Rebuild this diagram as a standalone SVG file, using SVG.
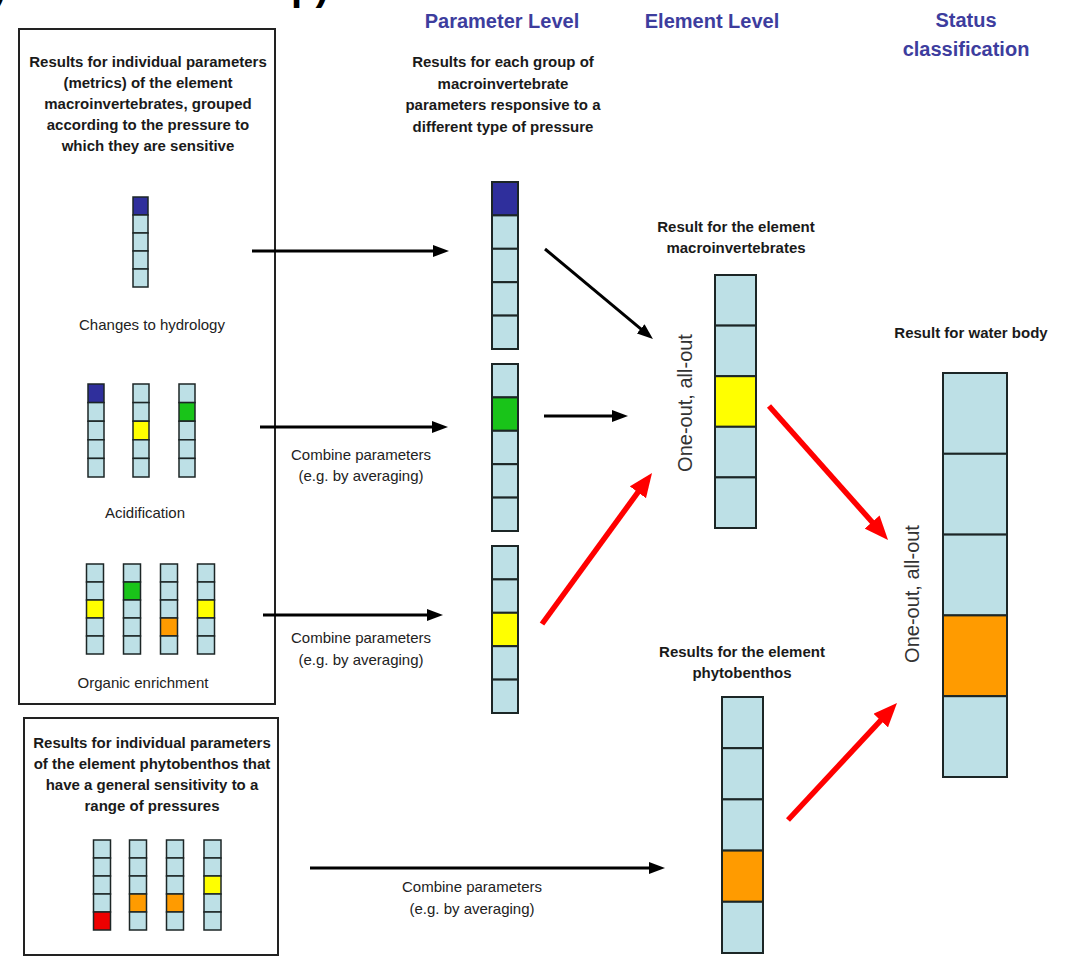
<svg xmlns="http://www.w3.org/2000/svg" width="1068" height="957" viewBox="0 0 1068 957">
  <style>
    .hdr { font-family: "Liberation Sans", Arial, sans-serif; font-size: 20px; font-weight: bold; fill: #3d3d9e; text-anchor: middle; }
    .note { font-family: "Liberation Sans", Arial, sans-serif; font-size: 15px; font-weight: bold; fill: #1a1a1a; text-anchor: middle; }
    .lbl { font-family: "Liberation Sans", Arial, sans-serif; font-size: 15px; fill: #222; text-anchor: middle; }
    .rot { font-family: "Liberation Sans", Arial, sans-serif; font-size: 20px; fill: #333; text-anchor: middle; }
    .frag { font-family: "Liberation Sans", Arial, sans-serif; font-size: 40px; font-weight: bold; fill: #000; }
    .box { fill: #fff; stroke: #222; stroke-width: 2; }
    rect.c, rect.nv, rect.gr, rect.ye, rect.or, rect.rd { stroke: #1c2626; stroke-width: 1.5; }
    .big rect { stroke-width: 2; }
    .c { fill: #bde0e6; }
    .nv { fill: #2f2f9c; }
    .gr { fill: #19c419; }
    .ye { fill: #ffff00; }
    .or { fill: #ff9b00; }
    .rd { fill: #ee0000; }
    .blk { stroke: #000; stroke-width: 3; fill: none; marker-end: url(#headBlack); }
    .red { stroke: #ff0000; stroke-width: 5.5; fill: none; marker-end: url(#headRed); }
  </style>
  <defs>
    <marker id="headBlack" markerUnits="userSpaceOnUse" markerWidth="16" markerHeight="12" refX="6" refY="6" orient="auto">
      <path d="M0,0 L16,6 L0,12 z" fill="#000"/>
    </marker>
    <marker id="headRed" markerUnits="userSpaceOnUse" markerWidth="24" markerHeight="20" refX="8" refY="10" orient="auto">
      <path d="M0,0 L24,10 L0,20 z" fill="#ff0000"/>
    </marker>
  </defs>

  <rect width="1068" height="957" fill="#fff"/>

  <!-- title descenders cut off at the top edge -->
  <text class="frag" x="-7" y="0">)</text>
  <text class="frag" x="291" y="0">p)</text>

  <!-- column headings -->
  <g id="headings">
    <text class="hdr" x="502" y="28">Parameter Level</text>
    <text class="hdr" x="712" y="28">Element Level</text>
    <text class="hdr" x="966" y="27">Status</text>
    <text class="hdr" x="966" y="56">classification</text>
  </g>

  <!-- macroinvertebrate parameter box -->
  <g id="macro-params">
    <rect class="box" x="19" y="29" width="256" height="675"/>
    <text class="note" x="148" y="67">Results for individual parameters</text>
    <text class="note" x="148" y="88">(metrics) of the element</text>
    <text class="note" x="148" y="109">macroinvertebrates, grouped</text>
    <text class="note" x="148" y="130">according to the pressure to</text>
    <text class="note" x="148" y="151">which they are sensitive</text>

    <g id="hydrology">
      <rect class="nv" x="133" y="197" width="15" height="18"/>
      <rect class="c" x="133" y="215" width="15" height="18"/>
      <rect class="c" x="133" y="233" width="15" height="18"/>
      <rect class="c" x="133" y="251" width="15" height="18"/>
      <rect class="c" x="133" y="269" width="15" height="18"/>
      <text class="lbl" x="152" y="330">Changes to hydrology</text>
    </g>

    <g id="acidification">
      <rect class="nv" x="88" y="384" width="16" height="18.6"/>
      <rect class="c" x="88" y="402.6" width="16" height="18.6"/>
      <rect class="c" x="88" y="421.2" width="16" height="18.6"/>
      <rect class="c" x="88" y="439.8" width="16" height="18.6"/>
      <rect class="c" x="88" y="458.4" width="16" height="18.6"/>

      <rect class="c" x="133" y="384" width="16" height="18.6"/>
      <rect class="c" x="133" y="402.6" width="16" height="18.6"/>
      <rect class="ye" x="133" y="421.2" width="16" height="18.6"/>
      <rect class="c" x="133" y="439.8" width="16" height="18.6"/>
      <rect class="c" x="133" y="458.4" width="16" height="18.6"/>

      <rect class="c" x="179" y="384" width="16" height="18.6"/>
      <rect class="gr" x="179" y="402.6" width="16" height="18.6"/>
      <rect class="c" x="179" y="421.2" width="16" height="18.6"/>
      <rect class="c" x="179" y="439.8" width="16" height="18.6"/>
      <rect class="c" x="179" y="458.4" width="16" height="18.6"/>
      <text class="lbl" x="145" y="518">Acidification</text>
    </g>

    <g id="organic-enrichment">
      <rect class="c" x="86.5" y="564" width="17" height="18"/>
      <rect class="c" x="86.5" y="582" width="17" height="18"/>
      <rect class="ye" x="86.5" y="600" width="17" height="18"/>
      <rect class="c" x="86.5" y="618" width="17" height="18"/>
      <rect class="c" x="86.5" y="636" width="17" height="18"/>

      <rect class="c" x="123.5" y="564" width="17" height="18"/>
      <rect class="gr" x="123.5" y="582" width="17" height="18"/>
      <rect class="c" x="123.5" y="600" width="17" height="18"/>
      <rect class="c" x="123.5" y="618" width="17" height="18"/>
      <rect class="c" x="123.5" y="636" width="17" height="18"/>

      <rect class="c" x="160.5" y="564" width="17" height="18"/>
      <rect class="c" x="160.5" y="582" width="17" height="18"/>
      <rect class="c" x="160.5" y="600" width="17" height="18"/>
      <rect class="or" x="160.5" y="618" width="17" height="18"/>
      <rect class="c" x="160.5" y="636" width="17" height="18"/>

      <rect class="c" x="197.5" y="564" width="17" height="18"/>
      <rect class="c" x="197.5" y="582" width="17" height="18"/>
      <rect class="ye" x="197.5" y="600" width="17" height="18"/>
      <rect class="c" x="197.5" y="618" width="17" height="18"/>
      <rect class="c" x="197.5" y="636" width="17" height="18"/>
      <text class="lbl" x="143" y="688">Organic enrichment</text>
    </g>
  </g>

  <!-- phytobenthos parameter box -->
  <g id="phyto-params">
    <rect class="box" x="24" y="718" width="254" height="237"/>
    <text class="note" x="152" y="748">Results for individual parameters</text>
    <text class="note" x="152" y="769">of the element phytobenthos that</text>
    <text class="note" x="152" y="790">have a general sensitivity to a</text>
    <text class="note" x="152" y="811">range of pressures</text>

    <rect class="c" x="93.5" y="840" width="17" height="18"/>
    <rect class="c" x="93.5" y="858" width="17" height="18"/>
    <rect class="c" x="93.5" y="876" width="17" height="18"/>
    <rect class="c" x="93.5" y="894" width="17" height="18"/>
    <rect class="rd" x="93.5" y="912" width="17" height="18"/>

    <rect class="c" x="129.5" y="840" width="17" height="18"/>
    <rect class="c" x="129.5" y="858" width="17" height="18"/>
    <rect class="c" x="129.5" y="876" width="17" height="18"/>
    <rect class="or" x="129.5" y="894" width="17" height="18"/>
    <rect class="c" x="129.5" y="912" width="17" height="18"/>

    <rect class="c" x="166.5" y="840" width="17" height="18"/>
    <rect class="c" x="166.5" y="858" width="17" height="18"/>
    <rect class="c" x="166.5" y="876" width="17" height="18"/>
    <rect class="or" x="166.5" y="894" width="17" height="18"/>
    <rect class="c" x="166.5" y="912" width="17" height="18"/>

    <rect class="c" x="204" y="840" width="17" height="18"/>
    <rect class="c" x="204" y="858" width="17" height="18"/>
    <rect class="ye" x="204" y="876" width="17" height="18"/>
    <rect class="c" x="204" y="894" width="17" height="18"/>
    <rect class="c" x="204" y="912" width="17" height="18"/>
  </g>

  <!-- parameter level results -->
  <g id="param-level" class="big">
    <text class="note" x="503" y="67">Results for each group of</text>
    <text class="note" x="503" y="89">macroinvertebrate</text>
    <text class="note" x="503" y="110">parameters responsive to a</text>
    <text class="note" x="503" y="132">different type of pressure</text>

    <g id="param-hydrology">
      <rect class="nv" x="492" y="182" width="26" height="33.4"/>
      <rect class="c" x="492" y="215.4" width="26" height="33.4"/>
      <rect class="c" x="492" y="248.8" width="26" height="33.4"/>
      <rect class="c" x="492" y="282.2" width="26" height="33.4"/>
      <rect class="c" x="492" y="315.6" width="26" height="33.4"/>
    </g>
    <g id="param-acidification">
      <rect class="c" x="492" y="364" width="26" height="33.4"/>
      <rect class="gr" x="492" y="397.4" width="26" height="33.4"/>
      <rect class="c" x="492" y="430.8" width="26" height="33.4"/>
      <rect class="c" x="492" y="464.2" width="26" height="33.4"/>
      <rect class="c" x="492" y="497.6" width="26" height="33.4"/>
    </g>
    <g id="param-organic">
      <rect class="c" x="492" y="546" width="26" height="33.4"/>
      <rect class="c" x="492" y="579.4" width="26" height="33.4"/>
      <rect class="ye" x="492" y="612.8" width="26" height="33.4"/>
      <rect class="c" x="492" y="646.2" width="26" height="33.4"/>
      <rect class="c" x="492" y="679.6" width="26" height="33.4"/>
    </g>
  </g>

  <!-- element level: macroinvertebrates -->
  <g id="element-macro" class="big">
    <text class="note" x="736" y="232">Result for the element</text>
    <text class="note" x="736" y="253">macroinvertebrates</text>
    <rect class="c" x="715" y="275" width="41" height="50.6"/>
    <rect class="c" x="715" y="325.6" width="41" height="50.6"/>
    <rect class="ye" x="715" y="376.2" width="41" height="50.6"/>
    <rect class="c" x="715" y="426.8" width="41" height="50.6"/>
    <rect class="c" x="715" y="477.4" width="41" height="50.6"/>
    <text class="rot" transform="translate(692 403) rotate(-90)">One-out, all-out</text>
  </g>

  <!-- element level: phytobenthos -->
  <g id="element-phyto" class="big">
    <text class="note" x="742" y="657">Results for the element</text>
    <text class="note" x="742" y="678">phytobenthos</text>
    <rect class="c" x="722" y="697" width="41" height="51.2"/>
    <rect class="c" x="722" y="748.2" width="41" height="51.2"/>
    <rect class="c" x="722" y="799.4" width="41" height="51.2"/>
    <rect class="or" x="722" y="850.6" width="41" height="51.2"/>
    <rect class="c" x="722" y="901.8" width="41" height="51.2"/>
  </g>

  <!-- status classification: water body -->
  <g id="water-body" class="big">
    <text class="note" x="971" y="338">Result for water body</text>
    <rect class="c" x="943" y="373" width="64" height="80.8"/>
    <rect class="c" x="943" y="453.8" width="64" height="80.8"/>
    <rect class="c" x="943" y="534.6" width="64" height="80.8"/>
    <rect class="or" x="943" y="615.4" width="64" height="80.8"/>
    <rect class="c" x="943" y="696.2" width="64" height="80.8"/>
    <text class="rot" transform="translate(919 594) rotate(-90)">One-out, all-out</text>
  </g>

  <!-- connectors -->
  <g id="connectors">
    <line class="blk" x1="252" y1="251" x2="439" y2="251"/>
    <line class="blk" x1="260" y1="427" x2="438" y2="427"/>
    <line class="blk" x1="263" y1="615" x2="433" y2="615"/>
    <line class="blk" x1="310" y1="868" x2="655" y2="868"/>
    <line class="blk" x1="545" y1="249" x2="645.3" y2="332.6"/>
    <line class="blk" x1="544" y1="416" x2="618" y2="416"/>
    <line class="red" x1="542" y1="624" x2="642.6" y2="485.9"/>
    <line class="red" x1="769" y1="406" x2="877.4" y2="528"/>
    <line class="red" x1="788" y1="820" x2="886.1" y2="714.7"/>

    <text class="lbl" x="361" y="460">Combine parameters</text>
    <text class="lbl" x="361" y="481">(e.g. by averaging)</text>
    <text class="lbl" x="361" y="643">Combine parameters</text>
    <text class="lbl" x="361" y="665">(e.g. by averaging)</text>
    <text class="lbl" x="472" y="892">Combine parameters</text>
    <text class="lbl" x="472" y="914">(e.g. by averaging)</text>
  </g>
</svg>
